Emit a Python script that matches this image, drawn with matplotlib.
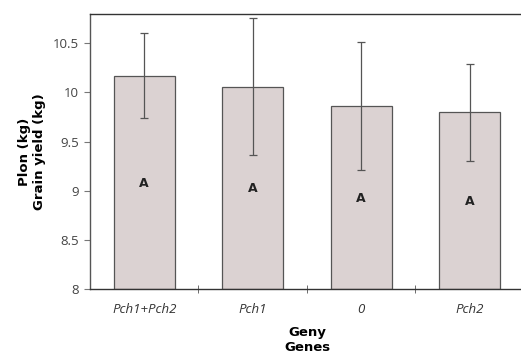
import matplotlib
matplotlib.use("Agg")
import matplotlib.pyplot as plt
import numpy as np

# data
genes = ["Pch1+Pch2", "Pch1", "0", "Pch2"]
yield_kg = [10.17, 10.06, 9.86, 9.80]
err_low = [0.43, 0.70, 0.65, 0.50]
err_high = [0.44, 0.70, 0.65, 0.49]
groups = ["A", "A", "A", "A"]

fig = plt.figure(figsize=(5.21, 3.55), dpi=100)
ax = fig.add_axes([0.1727, 0.186, 0.833, 0.775])

x = np.arange(len(genes))
ax.bar(x, [v - 8 for v in yield_kg], bottom=8, width=0.56,
       color="#dbd2d2", edgecolor="#555555", linewidth=0.9)
ax.errorbar(x, yield_kg, yerr=[err_low, err_high], fmt="none",
            ecolor="#555555", elinewidth=0.9, capsize=3, capthick=0.9)

for xi, v, g in zip(x, yield_kg, groups):
    ax.text(xi, (v + 8) / 2 - 0.01, g, ha="center", va="center",
            fontsize=9, fontweight="bold", color="#222222", family="DejaVu Sans")

ax.set_xlim(-0.5, 3.5)
ax.set_ylim(8, 10.8)
ax.set_yticks([8, 8.5, 9, 9.5, 10, 10.5])
ax.set_yticklabels(["8", "8.5", "9", "9.5", "10", "10.5"])
ax.set_xticks(x)
ax.set_xticklabels(genes, fontstyle="italic")
ax.set_xticks([0.5, 1.5, 2.5], minor=True)

ax.tick_params(axis="x", which="major", length=0, pad=10, labelsize=9.5,
               labelcolor="#333333")
ax.tick_params(axis="x", which="minor", length=6, direction="inout",
               color="#555555")
ax.tick_params(axis="y", length=4, direction="out", pad=4, labelsize=9.5,
               labelcolor="#444444", color="#777777")
for lab in ax.get_xticklabels() + ax.get_yticklabels():
    lab.set_family("Open Sans")

for s in ax.spines.values():
    s.set_color("#333333")
    s.set_linewidth(1.0)
ax.spines["left"].set_color("#555555")

ax.set_ylabel("Plon (kg)\nGrain yield (kg)", fontsize=9.5, fontweight="bold",
              family="DejaVu Sans", labelpad=5, linespacing=1.15)
ax.set_xlabel("Geny\nGenes", fontsize=9.5, fontweight="bold",
              family="DejaVu Sans", labelpad=7, linespacing=1.2)

fig.savefig("out.png", dpi=100)
